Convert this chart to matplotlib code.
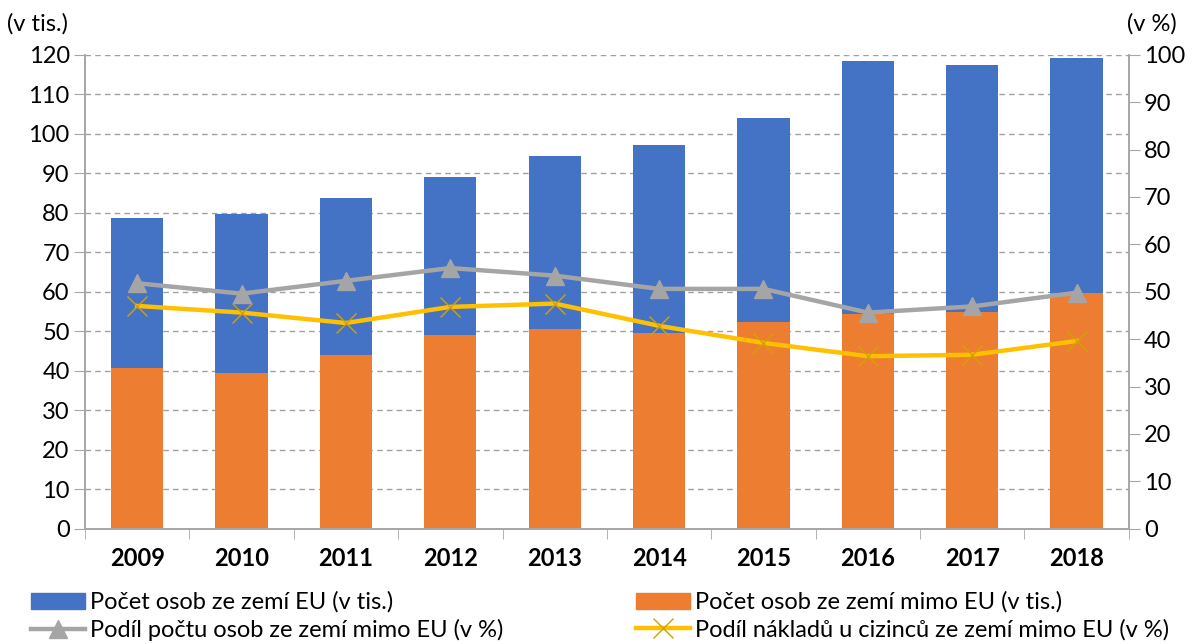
import numpy as np
import matplotlib.pyplot as plt
from matplotlib.patches import Patch
from matplotlib.lines import Line2D

plt.rcParams['font.family'] = ['Lato', 'DejaVu Sans']

# data
years = ['2009', '2010', '2011', '2012', '2013', '2014', '2015', '2016', '2017', '2018']
mimo_eu = [40.8, 39.5, 44.0, 49.1, 50.6, 49.5, 52.4, 54.3, 54.9, 59.6]      # orange, v tis.
celkem = [78.7, 79.7, 83.8, 89.1, 94.4, 97.1, 104.0, 118.3, 117.3, 119.2]  # top of blue
eu = [c - m for c, m in zip(celkem, mimo_eu)]                                 # blue, v tis.
podil_osob = [51.8, 49.6, 52.3, 55.0, 53.4, 50.6, 50.6, 45.6, 46.9, 49.8]   # grey, v %
podil_nakladu = [47.0, 45.6, 43.4, 46.8, 47.5, 42.8, 39.2, 36.4, 36.7, 39.6]  # yellow, v %

labels = ['Počet osob ze zemí EU (v tis.)',
          'Podíl počtu osob ze zemí mimo EU (v %)',
          'Počet osob ze zemí mimo EU (v tis.)',
          'Podíl nákladů u cizinců ze zemí mimo EU (v %)']

blue = '#4472C4'
orange = '#ED7D31'
grey = '#A5A5A5'
yellow = '#FFC000'
axcol = '#A6A6A6'

fig = plt.figure(figsize=(11.97, 6.44), dpi=100)
ax = fig.add_axes([0.071, 0.179, 0.872, 0.736])
ax2 = ax.twinx()

x = np.arange(len(years))
ax.bar(x, mimo_eu, width=0.5, color=orange, zorder=2)
ax.bar(x, eu, width=0.5, bottom=mimo_eu, color=blue, zorder=2)

ax.set_ylim(0, 120)
ax.set_yticks(range(0, 121, 10))
ax.set_xlim(-0.5, len(years) - 0.5)
ax.set_xticks(x)
ax.set_xticklabels(years, fontweight='bold', fontsize=17)
ax.set_xticks(np.arange(-0.5, len(years), 1), minor=True)
ax.tick_params(axis='x', which='major', length=0, pad=13)
ax.tick_params(axis='x', which='minor', length=7, color=axcol)
ax.tick_params(axis='y', labelsize=17, length=8, color=axcol, pad=3)
ax.yaxis.grid(True, linestyle=(0, (4, 3)), color='#A0A0A0', linewidth=1)
ax.set_axisbelow(True)

ax2.plot(x, podil_osob, color=grey, linewidth=3.2, marker='^', markersize=13, zorder=3)
ax2.plot(x, podil_nakladu, color=yellow, linewidth=3.2, marker='x', markersize=15,
         markeredgewidth=1, markeredgecolor='#D4A200', zorder=3)
ax2.set_ylim(0, 100)
ax2.set_yticks(range(0, 101, 10))
ax2.tick_params(axis='y', labelsize=17, length=8, color=axcol, pad=3)

for a in (ax, ax2):
    a.spines['top'].set_visible(False)
    for s in ('left', 'right', 'bottom'):
        a.spines[s].set_color(axcol)
        a.spines[s].set_linewidth(1.2)
ax.set_zorder(ax2.get_zorder() - 1)
ax2.patch.set_visible(False)

fig.text(0.006, 0.963, '(v tis.)', fontsize=17, ha='left', va='center')
fig.text(0.983, 0.963, '(v %)', fontsize=17, ha='right', va='center')

handles = [Patch(color=blue),
           Line2D([], [], color=grey, linewidth=3.2, marker='^', markersize=13),
           Patch(color=orange),
           Line2D([], [], color=yellow, linewidth=3.2, marker='x', markersize=15,
                  markeredgewidth=1, markeredgecolor='#D4A200')]
fig.legend(handles, labels, ncol=2, loc='upper left', bbox_to_anchor=(0.016, 0.1),
           frameon=False, fontsize=17, handlelength=2.3, handleheight=0.65,
           handletextpad=0.2, columnspacing=5.6, labelspacing=0.25, borderpad=0)

fig.savefig('out.png', dpi=100)
